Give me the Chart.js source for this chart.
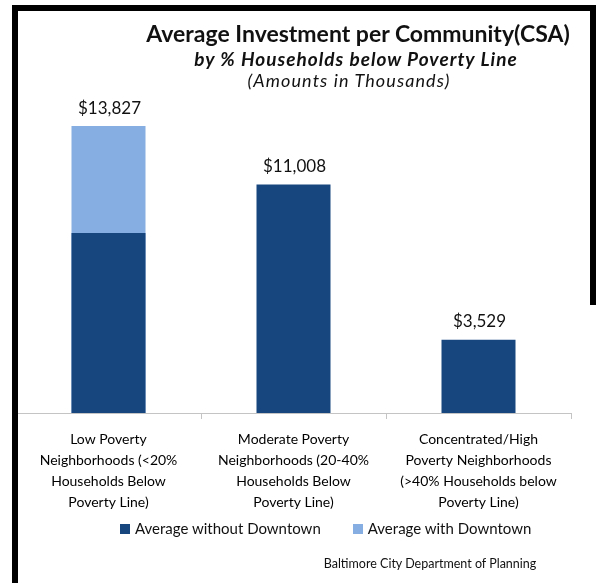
<!DOCTYPE html>
<html lang="en">
<head>
    <meta charset="UTF-8">
    <title>Average Investment per Community</title>
    <script src="https://cdn.jsdelivr.net/npm/chart.js"></script>
    <style>
        html, body { margin: 0; padding: 0; background: #fff; }
        .quadro { position: relative; width: 596px; height: 583px; overflow: hidden; background: #fff; font-family: Lato, sans-serif; color: #111; }
        .borda { position: absolute; background: #000; }
        .texto { position: absolute; white-space: nowrap; transform: translate(-50%, -50%); }
        .legenda { position: absolute; top: 528px; left: 120px; font-size: 15px; white-space: nowrap; transform: translateY(-50%); }
        .legenda span.cx { display: inline-block; width: 10px; height: 10px; margin-right: 5px; vertical-align: 0px; }
        #grafico { position: absolute; left: 0; top: 0; }
    </style>
</head>
<body>
<div class="quadro">
    <canvas id="grafico" width="596" height="583"></canvas>

    <div class="texto" style="left:358px; top:33px; font-size:23px; font-weight:700;">Average Investment per Community(CSA)</div>
    <div class="texto" style="left:356px; top:58px; font-size:19px; font-weight:700; font-style:italic; letter-spacing:1px;">by % Households below Poverty Line</div>
    <div class="texto" style="left:349px; top:80px; font-size:18px; font-style:italic; letter-spacing:1.1px;">(Amounts in Thousands)</div>

    <div class="legenda" id="legenda"></div>
    <div class="texto" style="left:430px; top:563px; font-size:12.5px;">Baltimore City Department of Planning</div>

    <div class="borda" style="left:12px; top:5px; width:6px; height:578px;"></div>
    <div class="borda" style="left:12px; top:5px; width:584px; height:6px;"></div>
    <div class="borda" style="left:590px; top:5px; width:6px; height:300px;"></div>
</div>
<script>
    // categorias e valores (milhares de dólares)
    const categorias = [
        ['Low Poverty', 'Neighborhoods (<20%', 'Households Below', 'Poverty Line)'],
        ['Moderate Poverty', 'Neighborhoods (20-40%', 'Households Below', 'Poverty Line)'],
        ['Concentrated/High', 'Poverty Neighborhoods', '(>40% Households below', 'Poverty Line)']
    ];
    const semDowntown = [8670, 11008, 3529];
    const comDowntown = [13827, null, null];
    const nomesSeries = ['Average without Downtown', 'Average with Downtown'];
    const cores = ['#17467f', '#86aee2'];

    // rótulo com o valor acima de cada barra
    const rotulos = {
        id: 'rotulos',
        afterDatasetsDraw(chart) {
            const ctx = chart.ctx;
            ctx.save();
            ctx.font = '17px Lato';
            ctx.fillStyle = '#111';
            ctx.textAlign = 'center';
            ctx.textBaseline = 'middle';
            categorias.forEach((c, i) => {
                let valor = null, barra = null;
                chart.data.datasets.forEach((ds, d) => {
                    const v = ds.data[i];
                    if (v != null && (valor == null || v > valor)) {
                        valor = v;
                        barra = chart.getDatasetMeta(d).data[i];
                    }
                });
                if (barra) {
                    ctx.fillText('$' + valor.toLocaleString('en-US'), barra.x + 1, barra.y - 18);
                }
            });
            ctx.restore();
        }
    };

    new Chart(document.getElementById('grafico'), {
        type: 'bar',
        data: {
            labels: categorias,
            datasets: [
                { label: nomesSeries[0], data: semDowntown, backgroundColor: cores[0] },
                { label: nomesSeries[1], data: comDowntown, backgroundColor: cores[1] }
            ]
        },
        options: {
            responsive: false,
            animation: false,
            barPercentage: 0.4,
            categoryPercentage: 1.0,
            layout: { padding: { left: 16, right: 25, top: 81, bottom: 60 } },
            plugins: {
                legend: { display: false },
                tooltip: { enabled: false }
            },
            scales: {
                x: {
                    stacked: true,
                    offset: true,
                    border: { color: '#c4c4c4', width: 1 },
                    grid: { display: true, drawOnChartArea: false, color: '#c4c4c4', tickLength: 6, offset: true },
                    ticks: {
                        color: '#000',
                        padding: 10,
                        maxRotation: 0,
                        autoSkip: false,
                        font: { family: 'Lato', size: 14, lineHeight: 1.5 }
                    }
                },
                y: {
                    display: false,
                    stacked: false,
                    min: 0,
                    max: 16000
                }
            }
        },
        plugins: [rotulos]
    });

    // legenda
    const legenda = document.getElementById('legenda');
    legenda.innerHTML = nomesSeries.map((n, i) =>
        `<span style="margin-right:${i == 0 ? 32 : 0}px"><span class="cx" style="background:${cores[i]}"></span>${n}</span>`
    ).join('');
</script>
</body>
</html>
